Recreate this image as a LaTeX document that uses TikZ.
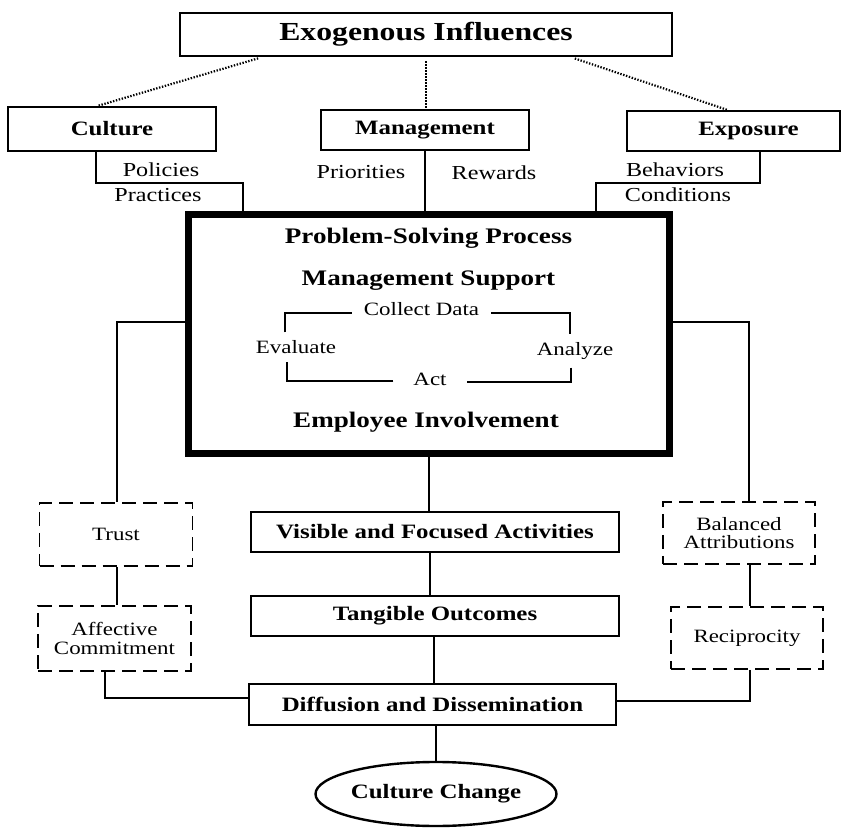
\documentclass[tikz,border=0pt]{standalone}
\usepackage{fontspec}
\setmainfont{Liberation Serif}[FakeStretch=1.22]
\usetikzlibrary{shapes.geometric}
\newcommand\fExo{\fontsize{13pt}{15pt}\selectfont\bfseries}
\newcommand\fBox{\fontsize{10.2pt}{12pt}\selectfont\bfseries}
\newcommand\fHead{\fontsize{11.1pt}{13pt}\selectfont\bfseries}
\newcommand\fLab{\fontsize{9.9pt}{11pt}\selectfont}
\newcommand\fCyc{\fontsize{9.4pt}{10.5pt}\selectfont}
\newcommand\fSide{\fontsize{9.4pt}{9.3pt}\selectfont}
\begin{document}
\begin{tikzpicture}[x=0.5pt,y=-0.5pt,
  box/.style={draw,line width=1.2pt,inner sep=0pt,font=\fBox},
  dbox/.style={draw,line width=0.9pt,dash pattern=on 7pt off 3.5pt,inner sep=0pt,font=\fSide,align=center},
  lab/.style={inner sep=0pt,font=\fLab},
  head/.style={inner sep=0pt,font=\fHead},
  cyc/.style={inner sep=0pt,font=\fCyc},
  conn/.style={line width=1pt},
  dotline/.style={line width=1.1pt,dash pattern=on 0.7pt off 0.8pt,shorten <=2pt}]
\useasboundingbox (0,0) rectangle (852,828);

% top level
\node[box,font=\fExo,minimum width=246pt,minimum height=21.5pt] (exo) at (426,34.5) {Exogenous Influences};
\node[box,minimum width=104pt,minimum height=22pt] (cult) at (112,129) {Culture};
\node[box,minimum width=104pt,minimum height=20pt] (mgmt) at (425,130) {Management};
\node[box,minimum width=106.5pt,minimum height=20pt] (expo) at (733.5,131) {\hspace*{15pt}Exposure};

\coordinate (dl) at (262,0);
\coordinate (dl2) at (98,0);
\coordinate (dr) at (571,0);
\coordinate (dr2) at (727,0);
\draw[dotline] (exo.south -| dl) -- (cult.north -| dl2);
\draw[dotline] (exo.south) -- (exo.south |- mgmt.north);
\draw[dotline] (exo.south -| dr) -- (expo.north -| dr2);

% main box
\node[draw,line width=3.5pt,minimum width=240.5pt,minimum height=119.5pt] (main) at (428.5,334.5) {};

% upper connectors
\coordinate (cu1) at (96,183);
\coordinate (cu2) at (243,183);
\draw[conn] (cult.south -| cu1) -- (cu1) -- (cu2) -- (cu2 |- main.north);
\draw[conn] (mgmt.south) -- (mgmt.south |- main.north);
\coordinate (ex1) at (760,183);
\coordinate (ex2) at (596,183);
\draw[conn] (expo.south -| ex1) -- (ex1) -- (ex2) -- (ex2 |- main.north);

\node[lab] (pol) at (161,170) {Policies};
\node[lab] (pra) at (158,195) {Practices};
\node[lab] (pri) at (361,172) {Priorities};
\node[lab] (rew) at (494,173) {Rewards};
\node[lab] (beh) at (675,170) {Behaviors};
\node[lab] (con) at (678,195) {Conditions};

% inside main box
\node[head] (psp) at (428.5,238) {Problem-Solving Process};
\node[head] (ms) at (428.5,281) {Management Support};
\node[head] (ei) at (426,422) {Employee Involvement};
\node[cyc,outer xsep=6pt] (cd) at (421.5,309) {Collect Data};
\node[cyc,outer ysep=4pt] (ev) at (296,347) {Evaluate};
\node[cyc,outer ysep=4pt] (an) at (575,351) {Analyze};
\node[cyc,outer xsep=10pt] (act) at (430,379) {Act};
\coordinate (k1) at (285,313);
\coordinate (k2) at (570,313);
\coordinate (k3) at (571,382);
\coordinate (k4) at (287,381);
\draw[conn] (ev.north -| k1) -- (k1) -- (cd.west |- k1);
\draw[conn] (cd.east |- k2) -- (k2) -- (an.north -| k2);
\draw[conn] (an.south -| k3) -- (k3) -- (act.east |- k3);
\draw[conn] (act.west |- k4) -- (k4) -- (ev.south -| k4);

% lower centre column
\node[box,minimum width=184pt,minimum height=20pt] (vis) at (435,532) {Visible and Focused Activities};
\node[box,minimum width=184pt,minimum height=20pt] (tang) at (435,616) {Tangible Outcomes};
\node[box,minimum width=183.5pt,minimum height=20.5pt] (diff) at (432.5,704.5) {Diffusion and Dissemination};
\node[ellipse,draw,line width=1.2pt,minimum width=120.5pt,minimum height=32pt,inner sep=0pt,font=\fBox] (cc) at (436,794) {Culture Change};

\coordinate (sp1) at (430,0);
\coordinate (sp2) at (434,0);
\draw[conn] (main.south) -- (main.south |- vis.north);
\draw[conn] (vis.south -| sp1) -- (tang.north -| sp1);
\draw[conn] (tang.south -| sp2) -- (diff.north -| sp2);
\draw[conn] (diff.south -| cc.north) -- (cc.north);

% side boxes
\node[dbox,minimum width=76.5pt,minimum height=31.5pt] (trust) at (116,534.5) {Trust};
\node[dbox,minimum width=76.5pt,minimum height=32.5pt] (aff) at (114.5,638.5) {Affective\\Commitment};
\node[dbox,minimum width=76pt,minimum height=31pt] (bal) at (739,533) {Balanced\\Attributions};
\node[dbox,minimum width=76pt,minimum height=31pt] (rec) at (747,638) {Reciprocity};

\coordinate (L1) at (117,322);
\draw[conn] (main.west |- L1) -- (L1) -- (L1 |- trust.north);
\draw[conn] (trust.south -| L1) -- (aff.north -| L1);
\coordinate (L2) at (105,698);
\draw[conn] (aff.south -| L2) -- (L2) -- (L2 -| diff.west);

\coordinate (R1) at (749,322);
\draw[conn] (main.east |- R1) -- (R1) -- (R1 |- bal.north);
\coordinate (R2) at (750,0);
\draw[conn] (bal.south -| R2) -- (rec.north -| R2);
\coordinate (R3) at (750,701);
\draw[conn] (rec.south -| R3) -- (R3) -- (R3 -| diff.east);
\end{tikzpicture}
\end{document}
